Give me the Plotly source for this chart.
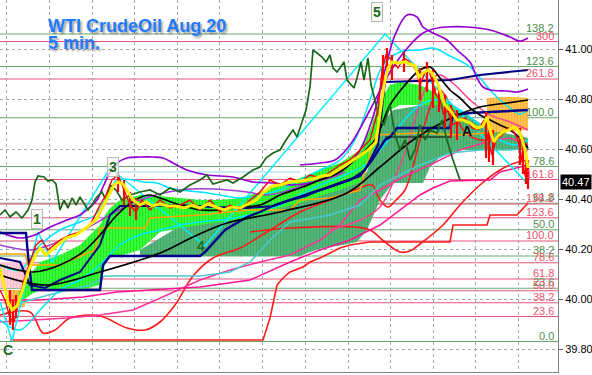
import plotly.graph_objects as go

# ---------------- data (bar index, price) ----------------
fib_green_levels = ["138.2", "123.6", "100.0", "78.6", "61.8", "50.0", "38.2", "23.6", "0.0"]
fib_green_prices = [41.06, 40.93, 40.725, 40.53, 40.383, 40.277, 40.172, 40.043, 39.83]
fib_red_levels = ["300", "261.8", "161.8", "138.2", "123.6", "100.0", "78.6", "61.8", "50.0", "38.2", "23.6"]
fib_red_prices = [41.03, 40.88, 40.478, 40.38, 40.325, 40.232, 40.145, 40.08, 40.033, 39.985, 39.93]

time_grid = [6, 49, 92, 134, 177, 219, 262, 305, 348, 390, 433, 475, 518]
price_ticks = [39.8, 40.0, 40.2, 40.4, 40.6, 40.8, 41.0, 41.2]
last_price = 40.47

chikou_x = [0,5,10,16,22,28,32,35,38,44,48,52,56,60,64,68,72,76,80,84,88,92,96,102,106,110,116,122,130,140,
            150,160,170,180,190,200,207,213,220,227,233,243,253,260,266,273,280,286,293,297,302,306,310,313,317,
            322,326,330,333,337,340,344,347,351,354,357,361,364,368,371,375,379,384,390,395,400,405,410,415,420,
            425,430,437,442,447,453,460]
chikou_y = [40.336,40.356,40.328,40.348,40.324,40.356,40.396,40.468,40.492,40.488,40.472,40.476,40.46,40.356,
            40.396,40.364,40.404,40.376,40.408,40.384,40.356,40.376,40.404,40.428,40.396,40.456,40.436,40.396,
            40.416,40.428,40.436,40.416,40.444,40.428,40.456,40.476,40.496,40.46,40.468,40.476,40.464,40.488,
            40.516,40.528,40.564,40.584,40.596,40.636,40.676,40.648,40.708,40.756,40.848,40.996,40.984,40.968,
            40.948,40.976,40.924,40.908,40.924,40.948,40.876,40.856,40.844,40.884,40.948,40.876,40.964,40.856,
            40.796,40.724,40.696,40.776,40.656,40.596,40.636,40.556,40.596,40.696,40.636,40.676,40.664,40.716,
            40.636,40.556,40.476]

ma_fast_x = [0,4,8,12,17,22,28,34,40,46,52,58,66,76,86,96,102,108,114,118,123,128,133,140,146,152,160,168,176,
             184,192,200,208,216,224,232,240,248,256,264,272,280,290,300,313,322,330,343,357,368,376,380,384,388,
             392,398,404,410,415,419,423,428,432,437,441,445,450,457,463,470,477,483,487,490,494,498,503,509,514,
             519,523,526,528]
ma_fast_y = [40.124,40.056,39.988,39.956,39.972,40.028,40.108,40.164,40.204,40.176,40.196,40.216,40.244,40.256,
             40.284,40.316,40.364,40.412,40.456,40.468,40.46,40.428,40.396,40.376,40.388,40.372,40.38,40.372,
             40.372,40.364,40.376,40.364,40.38,40.368,40.356,40.368,40.364,40.38,40.396,40.428,40.452,40.456,
             40.468,40.472,40.48,40.492,40.496,40.528,40.568,40.596,40.628,40.736,40.856,40.924,40.948,40.944,
             40.948,40.94,40.932,40.888,40.904,40.916,40.904,40.868,40.824,40.776,40.756,40.716,40.716,40.704,
             40.684,40.692,40.728,40.676,40.628,40.652,40.668,40.676,40.688,40.672,40.628,40.576,40.524]

close_x = [0,5,10,14,18,24,30,36,42,48,54,60,70,80,90,100,106,112,118,124,130,136,142,150,160,170,180,190,200,
           210,220,230,240,250,260,270,280,290,300,310,320,330,340,350,360,370,378,382,386,392,398,404,410,416,
           420,424,428,432,436,440,444,448,452,458,465,472,478,484,488,492,496,502,508,514,518,522,525,528]
close_y = [40.036,39.996,39.924,39.908,39.976,40.076,40.148,40.216,40.236,40.196,40.216,40.236,40.256,40.268,
           40.296,40.376,40.416,40.476,40.496,40.436,40.376,40.348,40.396,40.356,40.396,40.364,40.376,40.396,
           40.356,40.396,40.348,40.376,40.356,40.396,40.428,40.476,40.456,40.484,40.468,40.496,40.484,40.508,
           40.536,40.556,40.596,40.636,40.756,40.916,40.976,40.956,40.924,40.964,40.948,40.916,40.856,40.896,
           40.924,40.876,40.816,40.796,40.736,40.756,40.696,40.708,40.724,40.684,40.676,40.716,40.636,40.576,
           40.636,40.656,40.684,40.668,40.636,40.556,40.496,40.472]

wick_x = [10,13,16,118,124,130,136,383,387,392,404,420,427,433,439,445,451,457,486,489,493,520,523,526,528]
wick_lo = [39.896,39.876,39.924,40.428,40.376,40.332,40.316,40.816,40.896,40.876,40.908,40.796,40.828,40.764,
           40.748,40.684,40.644,40.636,40.564,40.548,40.536,40.536,40.50,40.46,40.44]
wick_hi = [40.036,39.996,40.016,40.508,40.476,40.428,40.404,40.976,41.004,40.976,40.988,40.924,40.948,40.916,
           40.856,40.816,40.776,40.756,40.748,40.696,40.676,40.684,40.644,40.596,40.556]

band_up_x = [0,20,35,50,67,80,90,97,103,110,117,127,140,153,163,173,187,207,233,253,273,293,320,345,360,373,385,
             395,407,417,423,433,447,457,470,477,483,490,507,517,528]
band_up_y = [40.268,40.244,40.256,40.288,40.316,40.336,40.368,40.396,40.448,40.508,40.544,40.564,40.568,40.568,
             40.564,40.544,40.516,40.496,40.488,40.468,40.464,40.456,40.476,40.524,40.596,40.728,40.916,41.056,
             41.136,41.128,41.088,41.064,41.036,40.996,40.948,40.884,40.848,40.836,40.832,40.828,40.84]

arc_x = [300,320,335,350,370,390,410,423,433,447,467,490,510,520,528]
arc_y = [40.536,40.544,40.556,40.616,40.756,40.908,41.016,41.064,41.08,41.088,41.088,41.076,41.048,41.032,41.044]

violet_x = [0,30,50,80,110,140,180,213,247,267,290,310,330,345]
violet_y = [40.216,40.196,40.216,40.268,40.336,40.396,40.436,40.44,40.428,40.416,40.436,40.464,40.484,40.508]

zigzag_x = [0,12,38,52,110,205,385,527]
zigzag_y = [39.988,39.832,40.268,40.148,40.524,40.212,41.06,40.464]

cyan_up_x = [0,20,40,60,80,95,105,117,133,143,157,167,180,200,220,240,260,280,300,320,340,355,370,383,400,420,
             433,450,470,490,500,510,520,528]
cyan_up_y = [40.136,40.116,40.216,40.276,40.308,40.336,40.396,40.476,40.476,40.468,40.464,40.448,40.436,40.428,
             40.416,40.404,40.416,40.436,40.476,40.516,40.556,40.636,40.796,40.936,40.988,40.996,41.004,40.972,
             40.928,40.836,40.796,40.764,40.74,40.756]

cyan_lo_x = [0,20,40,60,80,100,120,140,160,180,200,220,250,280,300,320,345,365,380,400,420,440,460,480,500,515,528]
cyan_lo_y = [39.916,39.876,39.956,40.036,40.076,40.136,40.216,40.256,40.276,40.296,40.308,40.316,40.336,40.376,
             40.416,40.456,40.496,40.536,40.596,40.696,40.776,40.796,40.756,40.696,40.636,40.616,40.636]

turq_x = [0,30,60,90,105,200,230,250,270,290,330,360,380,400,420,450,480,510,528]
turq_y = [39.956,39.996,40.028,40.056,40.092,40.092,40.108,40.148,40.236,40.308,40.336,40.376,40.456,40.496,
          40.536,40.584,40.596,40.596,40.604]

slow_ma_x = [0,47,100,160,193,227,280,347,380,413,447,480,507,528]
slow_ma_y = [40.096,40.056,40.108,40.184,40.248,40.304,40.348,40.424,40.528,40.636,40.716,40.768,40.784,40.796]

mid_ma_x = [0,33,60,83,100,117,135,150,160,180,200,220,240,260,280,300,320,340,360,375,390,405,420,430,440,450,
            460,470,480,490,500,510,520,528]
mid_ma_y = [40.136,40.108,40.136,40.188,40.256,40.336,40.396,40.416,40.404,40.376,40.356,40.356,40.368,40.376,
            40.416,40.444,40.476,40.508,40.576,40.636,40.776,40.856,40.916,40.928,40.884,40.836,40.804,40.764,
            40.736,40.716,40.696,40.676,40.644,40.604]

level_x = [385, 452]
level_y = [40.648, 40.648]

kijun_x = [0,26,28,32,100,103,110,200,205,213,225,247,260,275,290,305,320,340,360,372,385,390,397,450,453,470,528]
kijun_y = [40.264,40.264,40.176,40.036,40.036,40.136,40.172,40.172,40.188,40.224,40.276,40.328,40.348,40.376,
           40.396,40.412,40.436,40.464,40.492,40.556,40.636,40.648,40.684,40.684,40.736,40.744,40.756]

tenkan_x = [0,20,30,45,60,80,100,110,120,150,180,213,247,273,290,313,330,350,365,378,385,450,480,510,528]
tenkan_y = [40.164,40.148,40.056,40.044,40.076,40.108,40.216,40.336,40.372,40.372,40.376,40.368,40.364,40.372,
            40.396,40.428,40.448,40.476,40.516,40.616,40.868,40.876,40.896,40.908,40.916]

low_band_x = [0,30,43,55,70,100,127,145,160,175,193,213,240,267,300,330,355,372,380,388,396,405,420,430,437,445,
              455,465,480,500,515,528]
low_band_y = [39.936,39.948,39.864,39.876,39.924,39.932,39.884,39.876,39.908,39.976,40.092,40.164,40.204,40.268,
              40.348,40.396,40.436,40.456,40.396,40.368,40.396,40.436,40.636,40.768,40.844,40.816,40.736,40.668,
              40.636,40.656,40.684,40.596]

low_band2_x = [250,290,355,370,385,400,410,420,443,460,480,500,515,528]
low_band2_y = [40.268,40.284,40.288,40.276,40.228,40.188,40.192,40.22,40.296,40.376,40.456,40.516,40.544,40.556]

trail_x = [10,263,270,277,283,290,303,310,320,330,340,350,370,450,453,487,490,517,528]
trail_y = [39.836,39.836,39.924,40.056,40.084,40.108,40.128,40.148,40.164,40.184,40.204,40.216,40.228,40.228,
           40.296,40.296,40.336,40.336,40.384]

pink1_x = [0,33,67,100,133,167,200,230,260,290,320,340,360,380,403,430,460,493,510,528]
pink1_y = [39.908,39.916,39.924,39.936,39.956,40.016,40.076,40.116,40.148,40.176,40.236,40.296,40.396,40.436,
           40.488,40.536,40.596,40.636,40.644,40.616]

pink2_x = [0,40,83,117,150,200,250,290,320,350,380,400,420,433,450,490,500,528]
pink2_y = [39.996,39.996,40.008,40.028,40.036,40.048,40.076,40.148,40.196,40.236,40.296,40.356,40.416,40.444,
           40.472,40.476,40.508,40.536]

pink3_x = [330,360,380,397,407,420,430,440,455,470,490,510,528]
pink3_y = [40.276,40.316,40.368,40.504,40.608,40.784,40.876,40.896,40.856,40.796,40.736,40.708,40.676]

orange_x = [0,25,28,60,95,100,145,150,200,250,290,300,330,360,375,420,460,487]
orange_y = [40.18,40.18,40.136,40.136,40.196,40.284,40.284,40.324,40.336,40.356,40.356,40.396,40.404,40.436,
            40.656,40.664,40.656,40.664]

lime_x = [18,30,40,60,80,100,105,110,120,140,160,180,200,220,240,260,280,300,320,340,360,370,380,390,400,420,440,460]
lime_top = [40.016,40.096,40.148,40.176,40.216,40.296,40.336,40.364,40.396,40.416,40.412,40.404,40.396,40.396,
            40.404,40.428,40.456,40.484,40.516,40.544,40.596,40.676,40.796,40.856,40.868,40.856,40.816,40.748]
lime_bot = [39.976,40.016,40.036,40.036,40.036,40.056,40.136,40.172,40.172,40.196,40.268,40.284,40.296,40.308,
            40.316,40.336,40.364,40.384,40.412,40.436,40.468,40.556,40.676,40.756,40.776,40.776,40.776,40.748]

sea_x = [140,180,220,260,300,310,323,343,357,367,380,393,423,430,440,460,480,500,528]
sea_top = [40.196,40.292,40.324,40.356,40.396,40.412,40.428,40.452,40.476,40.508,40.696,40.756,40.776,40.776,
           40.784,40.756,40.704,40.668,40.644]
sea_bot = [40.172,40.172,40.172,40.172,40.172,40.188,40.204,40.216,40.228,40.276,40.396,40.464,40.464,40.528,
           40.568,40.596,40.596,40.596,40.596]

orange_cloud_x = [487,500,515,528]
orange_cloud_top = [40.804,40.808,40.808,40.804]
orange_cloud_bot = [40.664,40.668,40.672,40.676]

pink_cloud_x = [0,27]
pink_cloud_top = [40.148,40.148]
pink_cloud_bot = [40.044,40.044]
orange_fill_x = [8,25]
orange_fill_top = [40.036,40.036]
orange_fill_bot = [39.968,39.968]

box_x = [113,300]
box_y = [40.508,40.508]

wave_text = ["1", "3", "4", "5", "C", "A"]
wave_x = [37, 113, 201, 377, 8, 467]
wave_y = [40.32, 40.528, 40.214, 41.148, 39.796, 40.672]
wave_boxed = [True, True, False, True, False, False]
wave_color = ["#1d6b1d", "#1d6b1d", "#1d6b1d", "#1d6b1d", "#1d6b1d", "#111111"]

# ---------------- figure ----------------
fig = go.Figure()

def cloud(x, top, bot, fg, bg, size=3, sol=0.5):
    fig.add_trace(go.Scatter(x=x, y=bot, mode="lines", line=dict(width=0), hoverinfo="skip", showlegend=False))
    fig.add_trace(go.Scatter(x=x, y=top, mode="lines", line=dict(width=0), fill="tonexty",
                             fillcolor=bg,
                             fillpattern=dict(shape="|", fgcolor=fg, bgcolor=bg, size=size, solidity=sol),
                             hoverinfo="skip", showlegend=False))

def line(x, y, color, width=1.5, shape="linear"):
    fig.add_trace(go.Scatter(x=x, y=y, mode="lines", line=dict(color=color, width=width, shape=shape),
                             hoverinfo="skip", showlegend=False))

cloud(pink_cloud_x, pink_cloud_top, pink_cloud_bot, "#ffa0b4", "#ffd6de")
cloud(orange_fill_x, orange_fill_top, orange_fill_bot, "#ff9900", "#ffc060")
cloud(sea_x, sea_top, sea_bot, "#238a4c", "#62c084", 3, 0.6)
cloud(lime_x, lime_top, lime_bot, "#00d000", "#40ff40", 3, 0.45)
cloud(orange_cloud_x, orange_cloud_top, orange_cloud_bot, "#ff9a00", "#ffc860", 3, 0.55)

line(box_x, box_y, "#b8e4ee", 1.5)
line(trail_x, trail_y, "#ff1a1a", 1.6)
line(low_band_x, low_band_y, "#ff1a1a", 1.6, "spline")
line(low_band2_x, low_band2_y, "#ff1a1a", 1.6, "spline")
line(pink1_x, pink1_y, "#ff3399", 1.5)
line(pink2_x, pink2_y, "#ff1493", 1.5)
line(pink3_x, pink3_y, "#ff3c8c", 1.4, "spline")
line(turq_x, turq_y, "#48c8d0", 1.5)
line(cyan_lo_x, cyan_lo_y, "#00e5ff", 1.5, "spline")
line(cyan_up_x, cyan_up_y, "#00e5ff", 1.5, "spline")
line(zigzag_x, zigzag_y, "#00f0ff", 1.5)
line(violet_x, violet_y, "#a040d0", 1.5, "spline")
line(band_up_x, band_up_y, "#9400d3", 1.7, "spline")
line(arc_x, arc_y, "#9400d3", 1.7, "spline")
line(orange_x, orange_y, "#ffa500", 1.6)
line(kijun_x, kijun_y, "#00008b", 2.4)
line(tenkan_x, tenkan_y, "#000080", 2.0)
line(slow_ma_x, slow_ma_y, "#000000", 1.7, "spline")
line(mid_ma_x, mid_ma_y, "#000000", 1.7, "spline")
line(level_x, level_y, "#000000", 1.2)
line(chikou_x, chikou_y, "#1a681a", 1.7)

# candle wicks
wx, wy = [], []
for xv, lo, hi in zip(wick_x, wick_lo, wick_hi):
    wx += [xv, xv, None]
    wy += [lo, hi, None]
fig.add_trace(go.Scatter(x=wx, y=wy, mode="lines", line=dict(color="#ff0000", width=2.2),
                         hoverinfo="skip", showlegend=False))
line(close_x, close_y, "#ff0000", 1.4)
line(ma_fast_x, ma_fast_y, "#ffee00", 3.0)

# fibonacci levels
for lv, p in zip(fib_green_levels, fib_green_prices):
    fig.add_shape(type="line", xref="paper", x0=0, x1=1, yref="y", y0=p, y1=p,
                  line=dict(color="#6aa86a", width=1.2), layer="below")
    fig.add_annotation(xref="paper", x=1, xanchor="right", xshift=-2, yref="y", y=p, yanchor="bottom",
                       yshift=-2, text=lv, showarrow=False,
                       font=dict(family="Liberation Sans", size=11, color="#4c8f4c"))
for lv, p in zip(fib_red_levels, fib_red_prices):
    fig.add_shape(type="line", xref="paper", x0=0, x1=1, yref="y", y0=p, y1=p,
                  line=dict(color="#e25478", width=1.2), layer="below")
    fig.add_annotation(xref="paper", x=1, xanchor="right", xshift=-2, yref="y", y=p, yanchor="bottom",
                       yshift=-2, text=lv, showarrow=False,
                       font=dict(family="Liberation Sans", size=11, color="#f0506e"))

# wave labels
for t, xv, yv, bx, c in zip(wave_text, wave_x, wave_y, wave_boxed, wave_color):
    fig.add_annotation(x=xv, y=yv, text="<b>%s</b>" % t, showarrow=False,
                       font=dict(family="Liberation Sans", size=14, color=c),
                       bordercolor="#b8b8b8" if bx else "rgba(0,0,0,0)", borderwidth=1, borderpad=1,
                       bgcolor="rgba(250,250,240,0.7)" if bx else "rgba(0,0,0,0)")

# title
fig.add_annotation(xref="paper", yref="paper", x=46 / 558, y=1 - 26 / 372, xanchor="left", yanchor="middle",
                   text="<b>WTI CrudeOil Aug.20</b>", showarrow=False,
                   font=dict(family="Liberation Sans", size=18, color="#1f7bff",
                             shadow="2px 2px 2px rgba(0,0,0,0.35)"))
fig.add_annotation(xref="paper", yref="paper", x=46 / 558, y=1 - 43 / 372, xanchor="left", yanchor="middle",
                   text="<b>5 min.</b>", showarrow=False,
                   font=dict(family="Liberation Sans", size=18, color="#1f7bff",
                             shadow="2px 2px 2px rgba(0,0,0,0.35)"))

# last price tag
fig.add_annotation(xref="paper", x=1, xanchor="left", xshift=2, yref="y", y=last_price, yanchor="middle",
                   text="%.2f" % last_price, showarrow=False, bgcolor="#000000", borderpad=1,
                   font=dict(family="Liberation Sans", size=11, color="#ffffff"))

fig.update_layout(
    width=592, height=375,
    margin=dict(l=0, r=34, t=0, b=3),
    paper_bgcolor="#ffffff", plot_bgcolor="#ffffff",
    showlegend=False,
    xaxis=dict(range=[0, 558], tickvals=time_grid, showticklabels=False, ticks="",
               showgrid=True, gridcolor="#a4aab4", griddash="dot", gridwidth=1,
               zeroline=False, showline=True, linecolor="#808080", linewidth=1),
    yaxis=dict(range=[39.708, 41.196], side="right", tickvals=price_ticks, tickformat=".2f",
               showgrid=True, gridcolor="#a4aab4", griddash="dot", gridwidth=1,
               zeroline=False, showline=True, linecolor="#808080", linewidth=1,
               ticks="outside", ticklen=4, tickcolor="#606060",
               tickfont=dict(family="Liberation Sans", size=11, color="#000000")),
)

fig.write_html("out.html")
